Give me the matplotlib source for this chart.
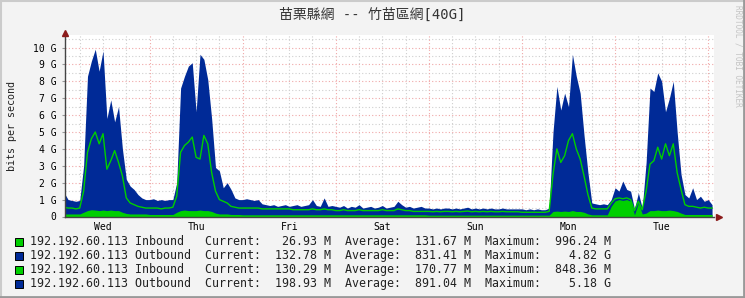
import matplotlib
matplotlib.use('Agg')
import matplotlib.pyplot as plt
import numpy as np
from matplotlib.patches import Rectangle
from matplotlib.lines import Line2D

# hourly samples, hour 0 = Wed 00:00
hours = list(range(2, 170))

# top of the blue (outbound) stack, in G
blue_top = [
    1.4, 1.0, 0.95, 0.9, 0.95, 3.0, 8.3, 9.2, 9.9, 8.6, 9.8, 5.8, 6.9, 5.6, 6.5, 4.0, 2.2, 1.8, 1.6, 1.3, 1.1, 1.0,
    1.0, 1.05, 0.95, 1.0, 0.95, 1.0, 1.0, 2.0, 7.6, 8.3, 8.9, 9.1, 6.2, 9.6, 9.3, 8.1, 5.8, 2.9, 2.7, 1.7, 2.0, 1.6, 1.1, 1.0,
    1.0, 1.05, 1.0, 0.95, 1.0, 0.75, 0.7, 0.65, 0.7, 0.6, 0.65, 0.7, 0.6, 0.65, 0.7, 0.6, 0.65, 0.7, 1.0, 0.65, 0.6, 1.1, 0.6, 0.65,
    0.6, 0.55, 0.65, 0.5, 0.6, 0.55, 0.7, 0.5, 0.55, 0.6, 0.5, 0.55, 0.65, 0.5, 0.55, 0.6, 0.9, 0.7, 0.55, 0.6, 0.5, 0.55, 0.6, 0.5,
    0.5, 0.45, 0.5, 0.45, 0.5, 0.5, 0.45, 0.5, 0.45, 0.5, 0.55, 0.45, 0.5, 0.45, 0.5, 0.45, 0.5, 0.45, 0.45, 0.5, 0.45, 0.45, 0.45, 0.45,
    0.45, 0.4, 0.45, 0.4, 0.45, 0.4, 0.4, 0.5, 5.0, 7.7, 6.3, 7.3, 6.5, 9.6, 8.3, 7.3, 4.8, 2.6, 0.8, 0.75, 0.7, 0.75, 0.7, 1.0,
    1.7, 1.5, 2.1, 1.6, 1.5, 0.45, 1.4, 0.5, 3.2, 7.6, 7.4, 8.5, 8.0, 6.2, 7.0, 8.0, 5.0, 2.5, 1.3, 1.1, 1.7, 1.0, 1.2, 0.9,
    1.0, 0.7,
]

# green line (second inbound, stacked)
green_line = [
    0.55, 0.5, 0.5, 0.45, 0.5, 1.5, 3.8, 4.6, 5.0, 4.3, 4.9, 2.8, 3.3, 3.9, 3.2, 2.4, 1.1, 0.8, 0.7, 0.6, 0.55, 0.5,
    0.5, 0.5, 0.5, 0.45, 0.5, 0.5, 0.55, 1.2, 3.8, 4.2, 4.4, 4.7, 3.5, 3.4, 4.8, 4.3, 2.6, 1.5, 1.0, 0.9, 0.8, 0.6, 0.55, 0.5,
    0.5, 0.5, 0.5, 0.5, 0.5, 0.45, 0.45, 0.45, 0.45, 0.45, 0.45, 0.45, 0.45, 0.4, 0.4, 0.4, 0.4, 0.4, 0.45, 0.4, 0.4, 0.45, 0.4, 0.4,
    0.35, 0.35, 0.4, 0.35, 0.35, 0.35, 0.4, 0.35, 0.35, 0.35, 0.35, 0.35, 0.4, 0.35, 0.35, 0.35, 0.45, 0.4, 0.35, 0.35, 0.3, 0.3, 0.3, 0.3,
    0.3, 0.28, 0.3, 0.28, 0.3, 0.3, 0.28, 0.3, 0.28, 0.3, 0.32, 0.28, 0.3, 0.28, 0.3, 0.28, 0.3, 0.28, 0.28, 0.3, 0.28, 0.28, 0.28, 0.28,
    0.25, 0.25, 0.25, 0.25, 0.25, 0.25, 0.25, 0.3, 2.5, 4.0, 3.2, 3.6, 4.5, 4.9, 4.0, 3.4, 2.4, 1.3, 0.5, 0.45, 0.45, 0.45, 0.45, 0.8,
    1.05, 1.1, 1.05, 1.1, 1.0, 0.35, 0.9, 0.4, 1.5, 3.1, 3.3, 4.1, 3.4, 4.3, 3.6, 4.3, 2.6, 1.6, 0.7, 0.6, 0.6, 0.55, 0.5, 0.55,
    0.5, 0.5,
]

# green area (first inbound)
green_area = [
    0.15, 0.15, 0.15, 0.15, 0.15, 0.25, 0.35, 0.4, 0.38, 0.35, 0.38, 0.35, 0.38, 0.35, 0.35, 0.25, 0.18, 0.15, 0.15, 0.15, 0.15, 0.15,
    0.12, 0.12, 0.12, 0.12, 0.12, 0.12, 0.12, 0.25, 0.35, 0.38, 0.35, 0.35, 0.35, 0.38, 0.35, 0.35, 0.3, 0.2, 0.15, 0.15, 0.15, 0.12, 0.12, 0.12,
    0.1, 0.1, 0.1, 0.1, 0.1, 0.1, 0.1, 0.1, 0.1, 0.1, 0.1, 0.1, 0.1, 0.1, 0.1, 0.1, 0.1, 0.1, 0.1, 0.1, 0.1, 0.1, 0.1, 0.1,
    0.1, 0.1, 0.1, 0.1, 0.1, 0.1, 0.1, 0.1, 0.1, 0.1, 0.1, 0.1, 0.1, 0.1, 0.1, 0.1, 0.1, 0.1, 0.1, 0.1, 0.1, 0.1, 0.1, 0.1,
    0.08, 0.08, 0.08, 0.08, 0.08, 0.08, 0.08, 0.08, 0.08, 0.08, 0.08, 0.08, 0.08, 0.08, 0.08, 0.08, 0.08, 0.08, 0.08, 0.08, 0.08, 0.08, 0.08, 0.08,
    0.08, 0.08, 0.08, 0.08, 0.08, 0.08, 0.08, 0.08, 0.3, 0.32, 0.3, 0.32, 0.3, 0.35, 0.3, 0.3, 0.25, 0.15, 0.1, 0.1, 0.1, 0.1, 0.1, 0.6,
    0.92, 1.0, 0.95, 1.0, 0.9, 0.1, 0.8, 0.15, 0.2, 0.35, 0.35, 0.38, 0.35, 0.35, 0.38, 0.35, 0.3, 0.2, 0.12, 0.12, 0.12, 0.12, 0.12, 0.12,
    0.12, 0.12,
]

day_names = ['Wed', 'Thu', 'Fri', 'Sat', 'Sun', 'Mon', 'Tue']
y_values = list(range(0, 11))
y_labels = ['0'] + ['%d G' % v for v in range(1, 11)]

legend_names = ['192.192.60.113 Inbound', '192.192.60.113 Outbound',
                '192.192.60.113 Inbound', '192.192.60.113 Outbound']
cur_vals = ['26.93', '132.78', '130.29', '198.93']
cur_units = ['M', 'M', 'M', 'M']
avg_vals = ['131.67', '831.41', '170.77', '891.04']
avg_units = ['M', 'M', 'M', 'M']
max_vals = ['996.24', '4.82', '848.36', '5.18']
max_units = ['M', 'G', 'M', 'G']

GREEN = '#00CF00'
BLUE = '#002A97'
legend_colors = [GREEN, BLUE, GREEN, BLUE]

W, H = 745, 298
fig = plt.figure(figsize=(W / 100, H / 100), dpi=100, facecolor='#F3F3F3')

# plot area in pixels
px0, px1, py0, py1 = 65, 714, 216.5, 35
ax = fig.add_axes([px0 / W, 1 - py0 / H, (px1 - px0) / W, (py0 - py1) / H])
ax.set_facecolor('white')

x0, x1 = 2.2, 169.5
ymax = (py0 - py1) / 16.9
ax.set_xlim(x0, x1)
ax.set_ylim(0, ymax)

# grid
for v in np.arange(0.5, ymax, 0.5):
    c = '#F0A8A8' if v % 1 == 0 else '#CFCFCF'
    ax.axhline(v, color=c, lw=0.8, ls=(0, (1, 2)), zorder=1)
for h in range(6, 170, 6):
    c = '#F0A8A8' if h % 24 == 0 else '#CFCFCF'
    ax.axvline(h, color=c, lw=0.8, ls=(0, (1, 2)), zorder=1)

# data
ax.fill_between(hours, 0, blue_top, color=BLUE, lw=0, zorder=2)
ax.fill_between(hours, 0, green_area, color=GREEN, lw=0, zorder=3)
ax.plot(hours, green_line, color=GREEN, lw=1.0, zorder=4)

# axes
for s in ['top', 'right']:
    ax.spines[s].set_visible(False)
for s in ['left', 'bottom']:
    ax.spines[s].set_color('#444444')
    ax.spines[s].set_linewidth(1.0)
    ax.spines[s].set_zorder(5)

mono = 'DejaVu Sans Mono'
ax.set_yticks(y_values)
ax.set_yticklabels(y_labels, family=mono, fontsize=7)
ax.set_xticks([24 * i + 12 for i in range(len(day_names))])
ax.set_xticklabels(day_names, family=mono, fontsize=7)
ax.tick_params(axis='y', length=2, pad=4, color='#999999')
ax.tick_params(axis='x', length=0, pad=4)

# arrows
ax.plot([1.0 + 5 / (px1 - px0)], [0], marker='>', ms=5, color='#8B1A1A',
        transform=ax.transAxes, clip_on=False, zorder=6)
ax.plot([0], [1.0 + 2 / (py0 - py1)], marker='^', ms=5, color='#8B1A1A',
        transform=ax.transAxes, clip_on=False, zorder=6)

# title and labels
fig.text(372 / W, 1 - 15 / H, '苗栗縣網 -- 竹苗區網[40G]', ha='center', va='center',
         family=['DejaVu Sans Mono', 'Noto Sans CJK TC'], fontsize=10, color='#333333')
fig.text(12 / W, 1 - 126 / H, 'bits per second', rotation=90, ha='center', va='center',
         family=mono, fontsize=7.2, color='#222222')
fig.text(738 / W, 1 - 5 / H, 'RRDTOOL / TOBI OETIKER', rotation=270, ha='center', va='top',
         family=mono, fontsize=5.6, color='#C4C4C4')

# legend
for i in range(4):
    yc = 241.7 + 14.1 * i
    fig.add_artist(Rectangle((15 / W, 1 - (yc + 4) / H), 8 / W, 8 / H, transform=fig.transFigure,
                             facecolor=legend_colors[i], edgecolor='black', lw=0.7))
    line = '%-25sCurrent:%8s %s  Average:%8s %s  Maximum:%8s %s' % (
        legend_names[i], cur_vals[i], cur_units[i], avg_vals[i], avg_units[i],
        max_vals[i], max_units[i])
    fig.text(30.5 / W, 1 - yc / H, line, ha='left', va='center', family=mono,
             fontsize=8.4, color='#222222')

# border shading
fig.add_artist(Line2D([0, 1], [1 - 0.5 / H, 1 - 0.5 / H], color='#CBCBCB', lw=1.5, transform=fig.transFigure))
fig.add_artist(Line2D([0.5 / W, 0.5 / W], [0, 1], color='#CBCBCB', lw=1.5, transform=fig.transFigure))
fig.add_artist(Line2D([0, 1], [1 / H, 1 / H], color='#999999', lw=2, transform=fig.transFigure))
fig.add_artist(Line2D([1 - 1 / W, 1 - 1 / W], [0, 1], color='#999999', lw=2, transform=fig.transFigure))

fig.savefig('out.png', dpi=100, facecolor=fig.get_facecolor())
